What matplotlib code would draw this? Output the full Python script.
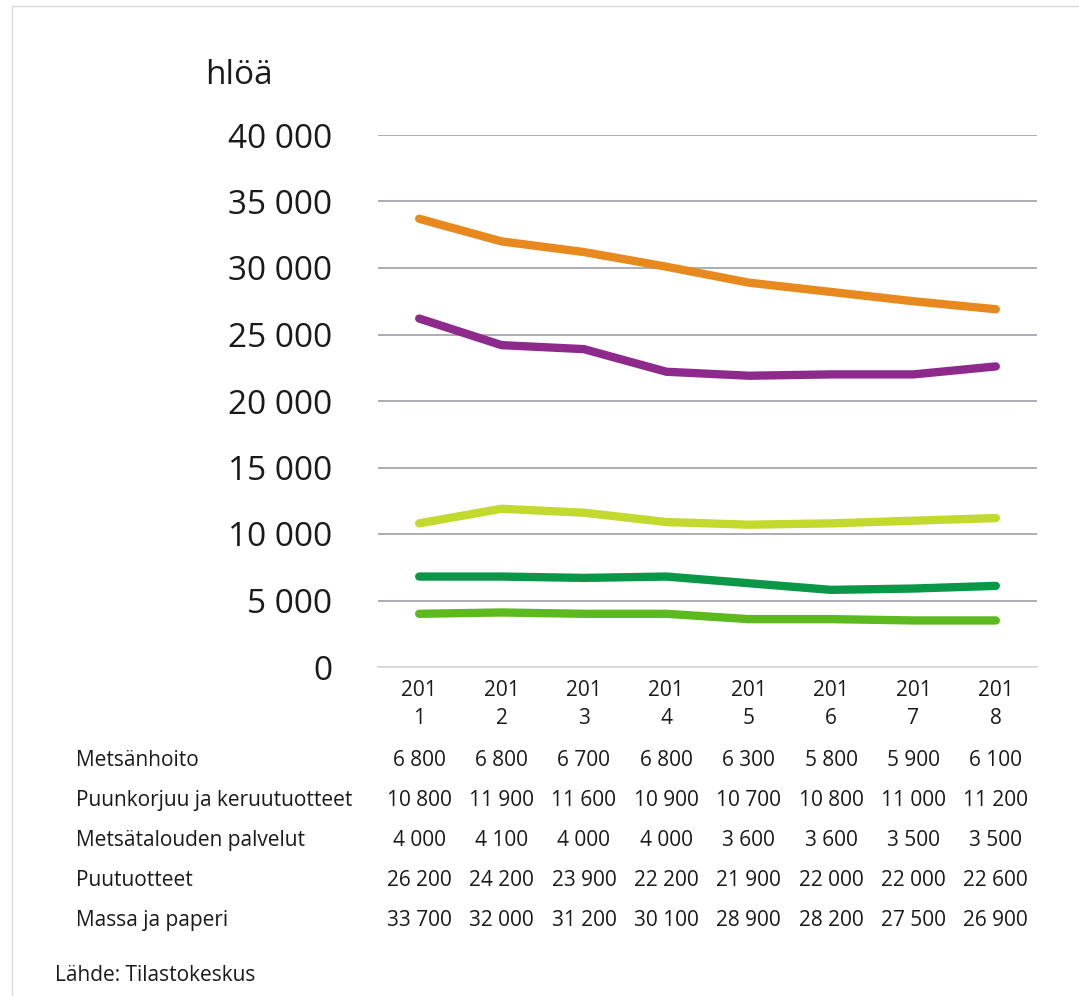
import matplotlib
matplotlib.use("Agg")
import matplotlib.pyplot as plt
from matplotlib.transforms import blended_transform_factory
from matplotlib.patches import Rectangle
import numpy as np

# Datos
vuodet = [2011, 2012, 2013, 2014, 2015, 2016, 2017, 2018]
sarjat = ["Metsänhoito", "Puunkorjuu ja keruutuotteet", "Metsätalouden palvelut",
          "Puutuotteet", "Massa ja paperi"]
metsanhoito = [6800, 6800, 6700, 6800, 6300, 5800, 5900, 6100]
puunkorjuu = [10800, 11900, 11600, 10900, 10700, 10800, 11000, 11200]
palvelut = [4000, 4100, 4000, 4000, 3600, 3600, 3500, 3500]
puutuotteet = [26200, 24200, 23900, 22200, 21900, 22000, 22000, 22600]
massa = [33700, 32000, 31200, 30100, 28900, 28200, 27500, 26900]
varit = ["#0A9848", "#C3D92E", "#5CB91E", "#8E2A8C", "#E8891E"]

plt.rcParams['font.family'] = ['Open Sans', 'DejaVu Sans']

W, H = 1079, 996
fig = plt.figure(figsize=(W / 100, H / 100), dpi=100)

# kehys
fig.patches.append(Rectangle((12 / W, -0.1), 1.2, (996 - 6) / H + 0.1,
                             transform=fig.transFigure, fill=False,
                             edgecolor="#D9D9D9", linewidth=1.0))

ax = fig.add_axes([378 / W, (H - 667) / H, 659 / W, (667 - 135) / H])
x = np.arange(len(vuodet))
arvot = [metsanhoito, puunkorjuu, palvelut, puutuotteet, massa]
for arvo, vari in zip(arvot, varit):
    ax.plot(x, arvo, color=vari, linewidth=6, solid_capstyle="round",
            solid_joinstyle="round", zorder=3)

pieni = 15
ax.set_xlim(-0.5, len(vuodet) - 0.5)
ax.set_ylim(0, 40000)
ax.set_yticks(range(0, 40001, 5000))
ax.set_yticklabels([f"{v:,}".replace(",", " ") for v in range(0, 40001, 5000)],
                   fontsize=24, color="#1a1a1a")
ax.set_xticks(x)
ax.set_xticklabels([str(v)[:3] + "\n" + str(v)[3:] for v in vuodet],
                   fontsize=pieni, color="#1a1a1a", linespacing=1.45)
ax.tick_params(axis="y", length=0, pad=33)
ax.tick_params(axis="x", length=0, pad=9)
ax.grid(axis="y", color="#A6A6B0", linewidth=1.3)
ax.set_axisbelow(True)
for s in ["top", "right", "left"]:
    ax.spines[s].set_visible(False)
ax.spines["bottom"].set_color("#D9D9D9")
ax.spines["bottom"].set_linewidth(1.3)

fig.text(205 / W, (H - 75) / H, "hlöä", fontsize=24, color="#1a1a1a", va="center")

# taulukko
trans = blended_transform_factory(ax.transData, fig.transFigure)
rivi_y = [760, 800, 840, 880, 920]
for nimi, arvo, yy in zip(sarjat, arvot, rivi_y):
    fig.text(76 / W, (H - yy) / H, nimi, fontsize=pieni, color="#1a1a1a", va="center")
    for i, v in enumerate(arvo):
        ax.text(i, (H - yy) / H, f"{v:,}".replace(",", " "), transform=trans,
                fontsize=pieni, color="#1a1a1a", ha="center", va="center", clip_on=False)

fig.text(55 / W, (H - 975) / H, "Lähde: Tilastokeskus", fontsize=pieni,
         color="#1a1a1a", va="center")

fig.savefig("out.png", dpi=100, facecolor="white")
